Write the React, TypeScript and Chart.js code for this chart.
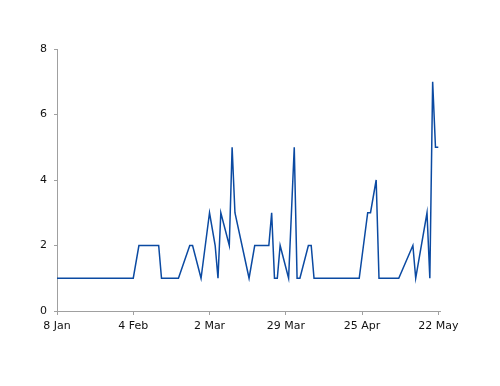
import React, { useEffect, useRef } from "react";
import { Chart, registerables } from "chart.js";

Chart.register(...registerables);

// Days since 8 Jan
const days = [0, 27, 29, 36, 37, 43, 47, 48, 51, 54, 56, 57, 58, 61, 62, 63, 68, 70, 75, 76, 77, 78, 79, 82, 84, 85, 86, 89, 90, 91, 107, 110, 111, 113, 114, 121, 126, 127, 131, 132, 133, 134, 135];
const counts = [1, 1, 2, 2, 1, 1, 2, 2, 1, 3, 2, 1, 3, 2, 5, 3, 1, 2, 2, 3, 1, 1, 2, 1, 5, 1, 1, 2, 2, 1, 1, 3, 3, 4, 1, 1, 2, 1, 3, 1, 7, 5, 5];

const tickDays = [0, 27, 54, 81, 108, 135];
const tickLabels = ["8 Jan", "4 Feb", "2 Mar", "29 Mar", "25 Apr", "22 May"];
const yTicks = [0, 2, 4, 6, 8];

export default function App() {
  const ref = useRef<HTMLCanvasElement>(null);
  useEffect(() => {
    if (!ref.current) return;
    const font = { family: "'DejaVu Sans', Verdana, sans-serif", size: 11 };
    const chart = new Chart(ref.current, {
      type: "line",
      data: {
        datasets: [
          {
            data: days.map((d, i) => ({ x: d, y: counts[i] })),
            borderColor: "#0b4aa2",
            borderWidth: 1.5,
            pointRadius: 0,
            tension: 0,
            fill: false,
          },
        ],
      },
      options: {
        animation: false,
        responsive: false,
        events: [],
        layout: { padding: { top: 49, right: 60, left: 0, bottom: 0 } },
        plugins: { legend: { display: false }, tooltip: { enabled: false } },
        scales: {
          x: {
            type: "linear",
            min: 0,
            max: 135.6,
            afterBuildTicks: (s: any) => {
              s.ticks = tickDays.map((v) => ({ value: v }));
            },
            afterFit: (s: any) => {
              s.height = 75;
            },
            ticks: {
              autoSkip: false,
              maxRotation: 0,
              color: "#111",
              font,
              padding: 5,
              callback: (v: any) => {
                const i = tickDays.indexOf(Number(v));
                return i >= 0 ? tickLabels[i] : "";
              },
            },
            grid: { drawOnChartArea: false, drawTicks: true, tickLength: 4, color: "#a0a0a0" },
            border: { color: "#a0a0a0", width: 1 },
          },
          y: {
            min: 0,
            max: 8,
            afterBuildTicks: (s: any) => {
              s.ticks = yTicks.map((v) => ({ value: v }));
            },
            afterFit: (s: any) => {
              s.width = 57;
            },
            ticks: { color: "#111", font, padding: 7 },
            grid: { drawOnChartArea: false, drawTicks: true, tickLength: 3, color: "#a0a0a0" },
            border: { color: "#a0a0a0", width: 1 },
          },
        },
      },
    });
    return () => chart.destroy();
  }, []);
  return (
    <div style={{ position: "fixed", left: 0, top: 0, width: 500, height: 386, background: "#fff" }}>
      <canvas ref={ref} width={500} height={386} style={{ width: 500, height: 386 }} />
    </div>
  );
}
